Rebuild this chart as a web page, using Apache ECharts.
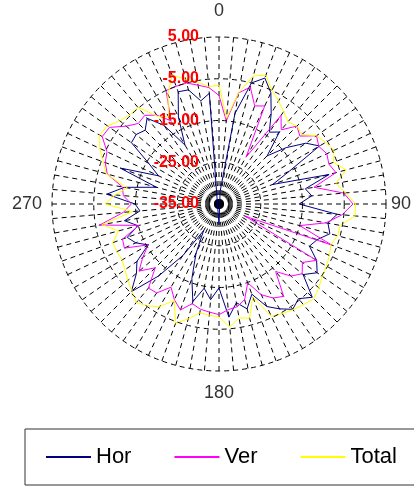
<!DOCTYPE html>
<html>
<head>
<meta charset="utf-8">
<script src="https://cdn.jsdelivr.net/npm/echarts@6/dist/echarts.min.js"></script>
<style>
  html, body { margin: 0; padding: 0; background: #fff; }
  #chart { width: 414px; height: 487px; }
</style>
</head>
<body>
<div id="chart"></div>
<script>
// angles in degrees, clockwise from top, every 5 deg
var angles = [];
for (var a = 0; a < 360; a += 5) angles.push(a);

var seriesNames = ["Hor", "Ver", "Total"];

var horValues = [
  -40, -32, -13, -5, -2.9, -5.6, -10, -14, -12.5, -18.7,
  -14, -9.6, -7.2, -16.4, -21.3, -7.7, -14, -12.7, -15.8, -6.6,
  -8.5, -7.5, -10, -11.1, -8, -6.3, -8.7, -3.4, -5.4, -4.2,
  -6, -7.9, -12, -9, -11, -7.8, -14.9, -12, -14.5, -10.8,
  -16, -22, -27.6, -20, -12.5, -5.3, -9.2, -11, -15.4, -13,
  -11.6, -14.9, -12, -16, -14.9, -8, -12, -19.5, -9.8, -19,
  -15.6, -9.4, -9.1, -10, -8.2, -12, -18.7, -12, -6.4, -6.7,
  -9.9, -8.4
];

var verValues = [
  -9, -15, -8, -6, -10, -9.1, -22, -9.1, -11.8, -8.6,
  -9.7, -6.5, -7.4, -6.5, -7, -6, -11.9, -5, -2.9, -5.4,
  -9, -15, -6.3, -28, -8, -10.6, -9, -10.6, -13.9, -8,
  -9, -11, -14.9, -11.3, -10, -9.6, -8.5, -9, -9.4, -10.3,
  -8, -9.7, -12, -9, -8.7, -13.4, -10, -12.7, -15.4, -10,
  -10.4, -15.2, -6, -12, -14, -12, -11.5, -7.3, -6, -5.4,
  -2.7, -3, -6, -7.7, -7.3, -9, -12, -5, -5, -5,
  -6.1, -7
];

var totalValues = [
  -6.5, -14.4, -8, -3.2, -2.2, -5, -6.5, -8, -9.3, -8.6,
  -9.1, -6.5, -5.5, -4.6, -5.8, -3.5, -6.6, -4.5, -2.3, -2.3,
  -5.5, -5.6, -6.5, -5.8, -5.3, -4.8, -3.8, -2.9, -3.5, -4.1,
  -4.7, -5.3, -11.3, -6.7, -7.3, -5.4, -7.9, -8.3, -8.5, -6.5,
  -4.6, -9.6, -6.6, -5.2, -4.2, -5.5, -6.5, -7.5, -8.2, -8.0,
  -7.9, -10.1, -6.5, -14.3, -7.7, -10, -12.7, -7, -5.5, -3.5,
  -2.0, -2.4, -4, -4.8, -4.8, -9.4, -10.9, -6, -2.2, -4.1,
  -5.3, -6.8
];

var radiusTicks = { min: -35, max: 5, interval: 10 };
var angleLabels = { 0: "t", 90: "r", 180: "b", 270: "l" };

function loop(values) {
  var pts = values.map(function (v, i) { return [v, angles[i]]; });
  pts.push([values[0], 360]);
  return pts;
}

var chart = echarts.init(document.getElementById("chart"));
chart.setOption({
  animation: false,
  backgroundColor: "#fff",
  polar: {
    center: [219, 204],
    radius: 167
  },
  angleAxis: {
    type: "value",
    min: 0,
    max: 360,
    interval: 5,
    startAngle: 90,
    clockwise: true,
    axisLine: { show: false },
    axisTick: { show: false },
    axisLabel: {
      margin: 5,
      color: "#333",
      fontSize: 18,
      fontFamily: "Liberation Sans, Arial",
      formatter: function (v) {
        var k = angleLabels[v];
        return k && v < 360 ? "{" + k + "|" + v + "}" : "";
      },
      rich: {
        t: { fontSize: 18, color: "#333", padding: [0, 0, 12, 0] },
        r: { fontSize: 18, color: "#333" },
        b: { fontSize: 18, color: "#333", padding: [8, 0, 0, 0] },
        l: { fontSize: 18, color: "#333", padding: [0, 5, 0, 0] }
      }
    },
    splitLine: {
      show: true,
      lineStyle: { color: "#000", width: 1, type: [5, 4] }
    }
  },
  radiusAxis: {
    type: "value",
    min: radiusTicks.min,
    max: radiusTicks.max,
    interval: radiusTicks.interval,
    axisLine: { show: false },
    axisTick: { show: false },
    axisLabel: {
      margin: 20,
      color: "#ff0000",
      fontSize: 16,
      fontWeight: "bold",
      fontFamily: "Liberation Sans, Arial",
      formatter: function (v) { return v.toFixed(2); }
    },
    splitLine: {
      show: true,
      lineStyle: { color: "#000", width: 1, type: [5, 4] }
    },
    z: 10
  },
  legend: {
    data: seriesNames,
    left: 25,
    top: 429,
    width: 600,
    orient: "horizontal",
    padding: [17, 40, 17, 21],
    itemGap: 43,
    itemWidth: 45,
    itemHeight: 2,
    icon: "rect",
    borderColor: "#333",
    borderWidth: 1,
    borderRadius: 0,
    textStyle: {
      fontSize: 22,
      color: "#000",
      fontFamily: "Liberation Sans, Arial"
    }
  },
  series: [
    {
      name: "Hor",
      type: "line",
      coordinateSystem: "polar",
      symbol: "none",
      data: loop(horValues),
      lineStyle: { color: "#000080", width: 1 },
      itemStyle: { color: "#000080" }
    },
    {
      name: "Ver",
      type: "line",
      coordinateSystem: "polar",
      symbol: "none",
      data: loop(verValues),
      lineStyle: { color: "#ff00ff", width: 1 },
      itemStyle: { color: "#ff00ff" }
    },
    {
      name: "Total",
      type: "line",
      coordinateSystem: "polar",
      symbol: "none",
      data: loop(totalValues),
      lineStyle: { color: "#ffff00", width: 1 },
      itemStyle: { color: "#ffff00" }
    }
  ]
});
</script>
</body>
</html>
